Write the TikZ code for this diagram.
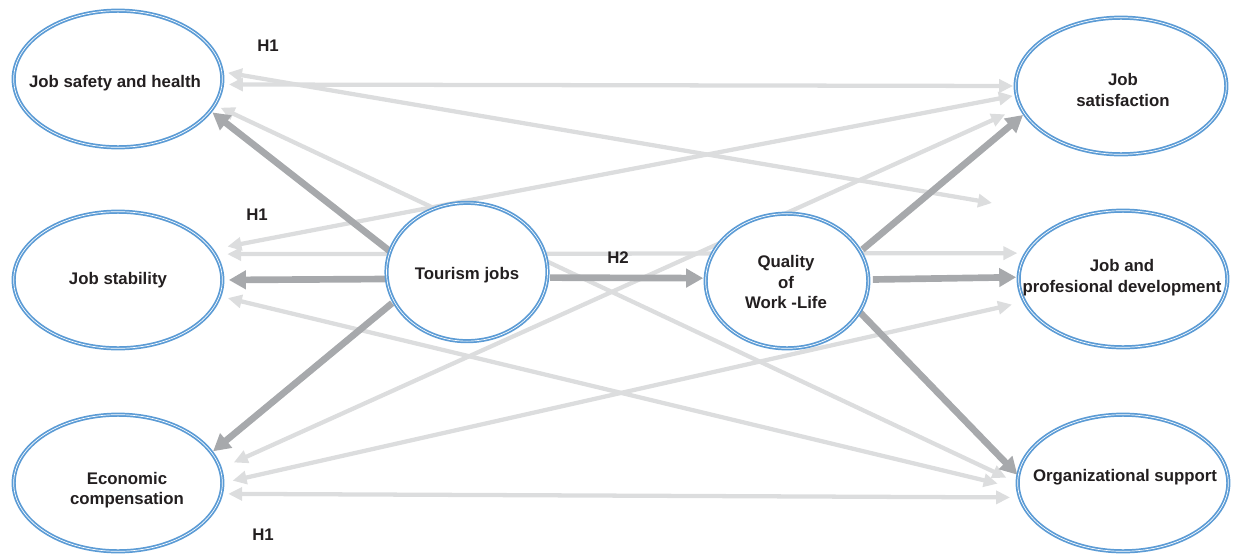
\documentclass[tikz,border=0pt]{standalone}
\usepackage{fontspec}
\setmainfont{Liberation Sans}
\usetikzlibrary{arrows.meta,shapes.geometric}
\pgfdeclarelayer{background}
\pgfsetlayers{background,main}
\definecolor{ellblue}{HTML}{5B9BD5}
\definecolor{lightarr}{HTML}{DCDDDE}
\definecolor{darkarr}{HTML}{A7A9AC}
\definecolor{txt}{HTML}{231F20}
\begin{document}
\begin{tikzpicture}[x=0.75pt,y=-0.75pt,
  ell/.style={ellipse, draw=ellblue, line width=1.3pt, double=white, double distance=0.5pt, fill=white, outer sep=0pt, inner sep=0pt},
  bigell/.style={ell, minimum width=156.5pt, minimum height=102.5pt},
  midell/.style={ell, minimum width=120.75pt, minimum height=103.75pt},
  lbl/.style={font=\fontsize{12.6}{15.3}\selectfont\bfseries, text=txt, align=center, inner sep=0pt},
  rel/.style={draw=lightarr, line width=3.2pt, {Triangle[length=10.5pt,width=9.75pt]}-{Triangle[length=10.5pt,width=9.75pt]}},
  eff/.style={draw=darkarr, line width=5pt, -{Triangle[length=12.75pt,width=13.5pt]}}
]
\useasboundingbox (0,0) rectangle (1233,554);

% ellipses
\node[bigell] (jsh) at (118,79) {};
\node[bigell] (jst) at (118,280) {};
\node[bigell] (eco) at (118,483) {};
\node[bigell, minimum width=158pt] (sat) at (1121,86) {};
\node[bigell] (dev) at (1123,279) {};
\node[bigell, minimum width=158pt] (org) at (1123,483) {};
\node[midell] (tj) at (467,272) {};
\node[midell, minimum width=122pt, minimum height=101pt] (qwl) at (787,281) {};

\coordinate (free) at (992,203);

% texts
\node[lbl] (jsh-t) at (115,83) {Job safety and health};
\node[lbl] (jst-t) at (118,280) {Job stability};
\node[lbl] (eco-t) at (127,490) {Economic\\compensation};
\node[lbl] (sat-t) at (1123,90) {Job\\satisfaction};
\node[lbl] (dev-t) at (1122,277.5) {Job and\\profesional development};
\node[lbl] (org-t) at (1125,477.5) {Organizational support};
\node[lbl] (tj-t) at (467,275.5) {Tourism jobs};
\node[lbl] (qwl-t) at (786,282) {Quality\\of\\Work -Life};

\node[lbl] (h1a) at (268,46) {H1};
\node[lbl] (h1b) at (257,215) {H1};
\node[lbl] (h1c) at (263,535) {H1};
\node[lbl] (h2) at (618,257.5) {H2};

\begin{pgfonlayer}{background}
% light relations (double-headed)
\draw[rel, shorten <=5.2pt, shorten >=1.9pt] (jsh.-3.09) -- (sat.180);
\draw[rel, shorten <=4.7pt] (jsh.4.68) -- (free);
\draw[rel, shorten <=5pt, shorten >=9.4pt] (jsh.-15.21) -- (org.180);
\draw[rel, shorten <=12.2pt, shorten >=2.9pt] (jst.18.91) -- (sat.185.8);
\draw[rel, shorten <=9.5pt, shorten >=6.8pt] (jst.15.37) -- (dev.165.3);
\draw[rel, shorten <=6.5pt, shorten >=15.7pt] (jst.-9.29) -- (org.183.18);
\draw[rel, shorten <=11.3pt, shorten >=12.9pt] (eco.8.27) -- (sat.192.06);
\draw[rel, shorten <=7.9pt, shorten >=9.7pt] (eco.0.5) -- (dev.193.18);
\draw[rel, shorten <=5.4pt, shorten >=7.5pt] (eco.-6.74) -- (org.188.06);
% dark effects
\draw[eff, shorten <=0.5pt, shorten >=2pt] (tj.165.96) -- (jsh.-19.32);
\draw[eff, shorten >=4.9pt] (tj.185.71) -- (jst.0.5);
\draw[eff, shorten <=2pt, shorten >=1.6pt] (tj.202.46) -- (eco.18.62);
\draw[eff, shorten <=2.2pt, shorten >=1.9pt] (tj.-4.82) -- (qwl.178.64);
\draw[eff, shorten <=2.3pt, shorten >=1.6pt] (qwl.22.19) -- (sat.196.48);
\draw[eff, shorten <=3.4pt, shorten >=1.9pt] (qwl.1.33) -- (dev.179.46);
\draw[eff, shorten <=0.5pt, shorten >=1pt] (qwl.-23) -- (org.176.22);
\end{pgfonlayer}
\end{tikzpicture}
\end{document}
